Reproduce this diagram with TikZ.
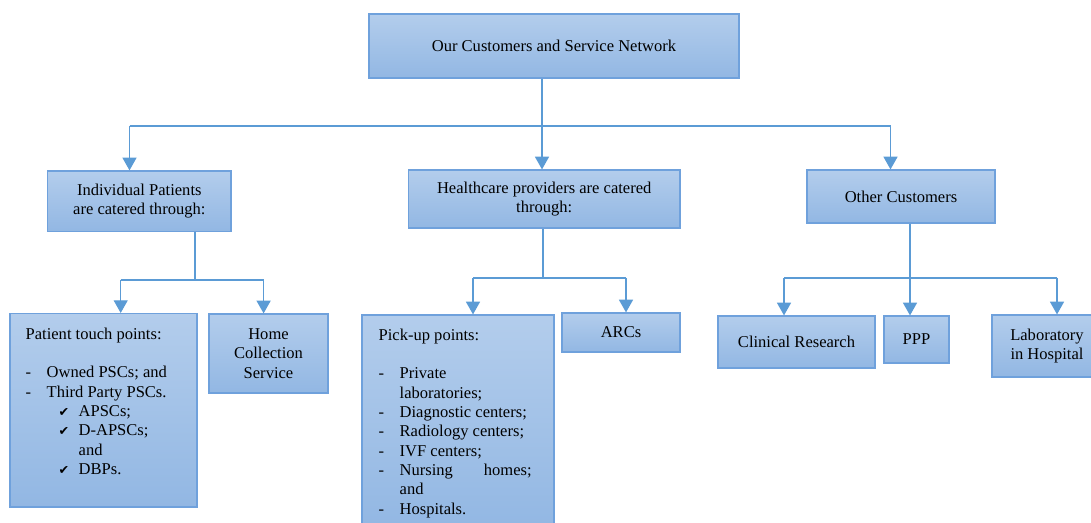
\documentclass[tikz,border=0pt]{standalone}
\usepackage{fontspec}
\setmainfont{Liberation Serif}
\newfontfamily\tickfont{DejaVu Sans}
\usetikzlibrary{arrows.meta}

\definecolor{boxtop}{HTML}{B3CDEC}
\definecolor{boxbottom}{HTML}{92B7E3}
\definecolor{boxline}{HTML}{6FA1DC}
\definecolor{linkblue}{HTML}{5B9BD5}

\newcommand{\dashitem}[1]{\makebox[15.75pt][l]{-}#1}
\newcommand{\dashmore}[1]{\hspace*{15.75pt}#1}
\newcommand{\tickitem}[1]{\hspace*{24.75pt}\makebox[15pt][l]{\tickfont\fontsize{9.5}{9.5}\selectfont ✔}#1}
\newcommand{\tickmore}[1]{\hspace*{39.75pt}#1}

\begin{document}
\begin{tikzpicture}[x=0.75pt, y=-0.75pt,
        font=\fontsize{12.4}{14.5}\selectfont,
        box/.style={draw=boxline, line width=0.9pt, top color=boxtop, bottom color=boxbottom, align=center, inner sep=0pt},
        listtext/.style={align=left, inner sep=0pt, anchor=north west},
        link/.style={draw=linkblue, line width=0.9pt},
        arrow/.style={link, -{Triangle[width=10.5pt, length=9.5pt]}}]
        \useasboundingbox (0,0) rectangle (1091,523);

        \node[box, minimum width=277.5pt, minimum height=48pt] (network) at (554,46) {Our Customers and Service Network};

        \node[box, minimum width=137.5pt, minimum height=45.5pt] (patients) at (139.3,201.3) {Individual Patients\\are catered through:};
        \node[box, minimum width=203.6pt, minimum height=43.5pt] (providers) at (544.2,199) {Healthcare providers are catered\\through:};
        \node[box, minimum width=141pt, minimum height=39.75pt] (others) at (901,196.5) {Other Customers};

        \node[box, minimum width=140.25pt, minimum height=145.1pt] (touch) at (103.5,410.3) {};
        \node[box, minimum width=89.25pt, minimum height=59.25pt] (home) at (268.5,353.5) {Home\\Collection\\Service};
        \node[box, minimum width=144pt, minimum height=161.25pt] (pickup) at (458,422.5) {};
        \node[box, minimum width=88.5pt, minimum height=29.25pt] (arcs) at (621,332.5) {ARCs};
        \node[box, minimum width=117.75pt, minimum height=39pt] (clinical) at (796.5,342) {Clinical Research};
        \node[box, minimum width=48.75pt, minimum height=35.25pt] (ppp) at (916.5,339.5) {PPP};
        \node[box, minimum width=82.5pt, minimum height=46.5pt] (lab) at (1047,346) {Laboratory\\in Hospital};

        \node[listtext] (touch-text) at ([shift={(16,14.5)}]touch.north west) {Patient touch points:\\[14.5pt]
            \dashitem{Owned PSCs; and}\\
            \dashitem{Third Party PSCs.}\\
            \tickitem{APSCs;}\\
            \tickitem{D-APSCs;}\\
            \tickmore{and}\\
            \tickitem{DBPs.}};
        \node[listtext] (pickup-text) at ([shift={(17,14)}]pickup.north west) {Pick-up points:\\[14.5pt]
            \dashitem{Private}\\
            \dashmore{laboratories;}\\
            \dashitem{Diagnostic centers;}\\
            \dashitem{Radiology centers;}\\
            \dashitem{IVF centers;}\\
            \dashitem{\makebox[99pt][s]{Nursing homes;}}\\
            \dashmore{and}\\
            \dashitem{Hospitals.}};

        \coordinate (net-left) at (129.5,126);
        \coordinate (net-mid) at (542,126);
        \coordinate (net-right) at (890.5,126);
        \draw[link] (net-left) -- (net-right);
        \draw[arrow] (network.south -| net-mid) -- (net-mid |- providers.north);
        \draw[arrow] (net-left) -- (net-left |- patients.north);
        \draw[arrow] (net-right) -- (net-right |- others.north);

        \coordinate (pat-mid) at (195,280);
        \coordinate (pat-left) at (120.7,280);
        \coordinate (pat-right) at (263.6,280);
        \draw[link] (patients.south -| pat-mid) -- (pat-mid);
        \draw[link] (pat-left) -- (pat-right);
        \draw[arrow] (pat-left) -- (pat-left |- touch.north);
        \draw[arrow] (pat-right) -- (pat-right |- home.north);

        \coordinate (prov-mid) at (543,278);
        \coordinate (prov-left) at (473,278);
        \coordinate (prov-right) at (626,278);
        \draw[link] (providers.south -| prov-mid) -- (prov-mid);
        \draw[link] (prov-left) -- (prov-right);
        \draw[arrow] (prov-left) -- (prov-left |- pickup.north);
        \draw[arrow] (prov-right) -- (prov-right |- arcs.north);

        \coordinate (oth-mid) at (910,278);
        \coordinate (oth-left) at (784,278);
        \coordinate (oth-right) at (1057,278);
        \draw[link] (oth-left) -- (oth-right);
        \draw[arrow] (others.south -| oth-mid) -- (oth-mid |- ppp.north);
        \draw[arrow] (oth-left) -- (oth-left |- clinical.north);
        \draw[arrow] (oth-right) -- (oth-right |- lab.north);
    \end{tikzpicture}
\end{document}
